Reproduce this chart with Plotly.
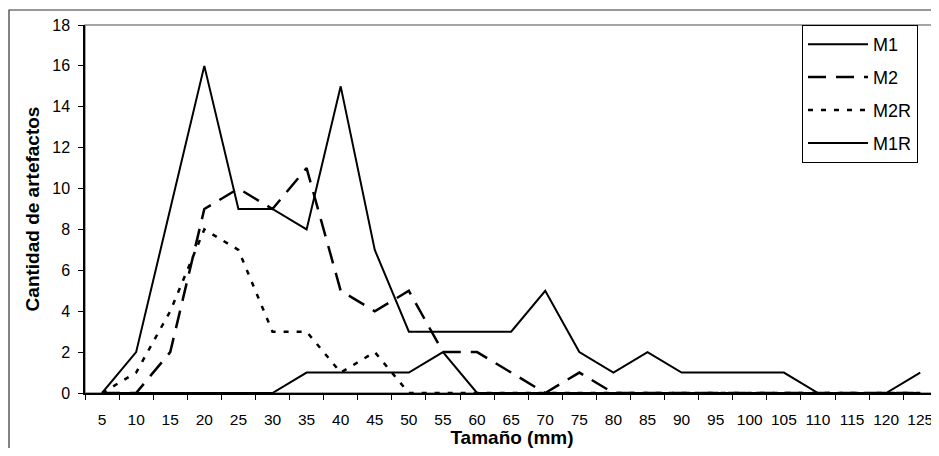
import plotly.graph_objects as go

sizes = ["5", "10", "15", "20", "25", "30", "35", "40", "45", "50", "55", "60", "65",
         "70", "75", "80", "85", "90", "95", "100", "105", "110", "115", "120", "125"]
m1 = [0, 2, 9, 16, 9, 9, 8, 15, 7, 3, 3, 3, 3, 5, 2, 1, 2, 1, 1, 1, 1, 0, 0, 0, 1]
m2 = [0, 0, 2, 9, 10, 9, 11, 5, 4, 5, 2, 2, 1, 0, 1, 0, 0, 0, 0, 0, 0, 0, 0, 0, 0]
m2r = [0, 1, 4, 8, 7, 3, 3, 1, 2, 0, 0, 0, 0, 0, 0, 0, 0, 0, 0, 0, 0, 0, 0, 0, 0]
m1r = [0, 0, 0, 0, 0, 0, 1, 1, 1, 1, 2, 0, 0, 0, 0, 0, 0, 0, 0, 0, 0, 0, 0, 0, 0]
y_ticks = [0, 2, 4, 6, 8, 10, 12, 14, 16, 18]

series = [
    ("M1", m1, "solid", 2),
    ("M2", m2, "18px,10px", 2.5),
    ("M2R", m2r, "5px,8px", 2.5),
    ("M1R", m1r, "solid", 2),
]

fig = go.Figure()
for name, vals, dash, w in series:
    fig.add_trace(go.Scatter(
        x=sizes, y=vals, mode="lines", name=name, legendgroup=name,
        line=dict(color="black", width=w, dash=dash),
    ))

# page has an 8px body margin; keep the figure inside the window
W, H = 931, 440
L, T, B = 77, 17, 55
pw = W - L
ph = H - T - B

fig.update_layout(
    width=W, height=H,
    margin=dict(l=L, r=0, t=T, b=B),
    paper_bgcolor="white", plot_bgcolor="white",
    font=dict(family="Liberation Sans, Arial, sans-serif", color="black", size=16),
    showlegend=True,
    legend=dict(
        x=(794 - L) / pw, y=1.0, xanchor="left", yanchor="top",
        bordercolor="black", borderwidth=1, bgcolor="white",
        font=dict(size=18), tracegroupgap=6.5, itemwidth=60,
    ),
    xaxis=dict(
        type="category", range=[-0.5, 24.55], automargin=False,
        tickson="boundaries", ticks="outside", ticklen=5, tickcolor="black",
        ticklabelstandoff=12, tickangle=0,
        showline=True, linecolor="black", linewidth=1.5,
        showgrid=False, zeroline=False,
        tickfont=dict(size=15.5),
        title=dict(text="<b>Tamaño (mm)</b>", font=dict(size=19), standoff=8),
    ),
    yaxis=dict(
        range=[0, 18], tickvals=y_ticks, automargin=False,
        ticks="outside", ticklen=5, tickcolor="black",
        ticklabelstandoff=5,
        showline=True, linecolor="black", linewidth=1.5,
        showgrid=False, zeroline=False,
        tickfont=dict(size=16),
        title=dict(text="<b>Cantidad de artefactos</b>", font=dict(size=19), standoff=8),
    ),
    shapes=[
        dict(type="rect", xref="paper", yref="paper", x0=0, x1=1, y0=0, y1=1,
             line=dict(color="#888888", width=1.5), layer="below"),
        dict(type="rect", xref="paper", yref="paper",
             x0=(1 - L) / pw, x1=1.05, y0=-(B + 20) / ph, y1=(H - B - 2) / ph,
             line=dict(color="#333333", width=1.2), layer="below"),
    ],
)

fig.write_html("out.html")
